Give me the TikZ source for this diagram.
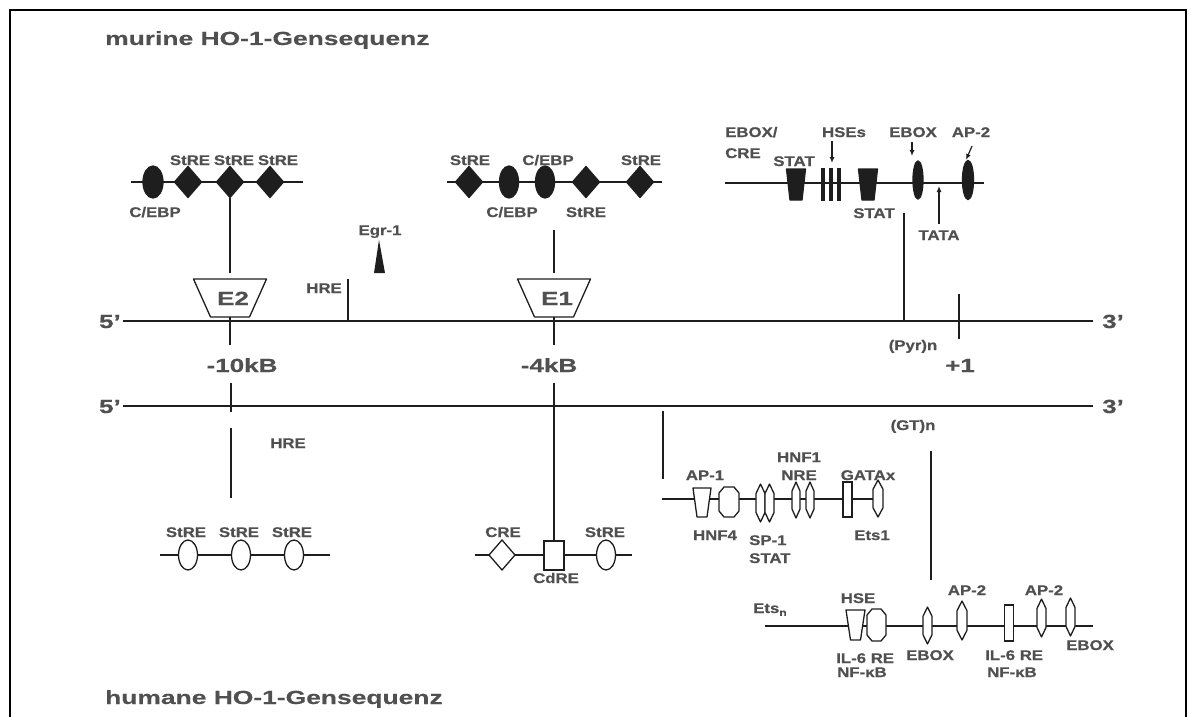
\documentclass[tikz,border=0pt]{standalone}
\usepackage{fontspec}
\setmainfont{Liberation Sans}
\newfontfamily\labf[FakeStretch=1.2,FakeBold=0.6]{Liberation Sans}
\newfontfamily\bigf[FakeStretch=1.37,FakeBold=0.6]{Liberation Sans}
\newfontfamily\titf[FakeStretch=1.39,FakeBold=0.3]{Liberation Sans}
\usetikzlibrary{shapes.geometric,arrows.meta}
\definecolor{lnc}{HTML}{1E1E1E}
\definecolor{txc}{HTML}{505050}
\tikzset{
 conn/.style={draw=lnc,line width=1.6pt},
 dna/.style={draw=lnc,line width=2.8pt},
 clus/.style={draw=lnc,line width=2pt},
 el/.style={draw=lnc,line width=1.3pt,inner sep=0pt,outer sep=0pt,fill=white},
 elp/.style={draw=lnc,line width=1.3pt,fill=white,line join=round},
 filled/.style={fill=lnc},
 oval/.style={el,ellipse},
 dmd/.style={el,diamond},
 box/.style={el,rectangle},
 sz/.style 2 args={minimum width=#1pt,minimum height=#2pt},
 lab/.style={text=txc,font=\labf\bfseries\fontsize{14}{16}\selectfont,inner sep=0pt,anchor=base},
 biglab/.style={text=txc,font=\bigf\bfseries\fontsize{19}{22}\selectfont,inner sep=0pt,anchor=base},
 ttl/.style={text=txc,font=\titf\bfseries\fontsize{19}{22}\selectfont,inner sep=0pt,anchor=base west},
 arr/.style={draw=lnc,line width=1.2pt,-{Latex[length=6pt,width=5pt]}},
}
% trapezoid: name, x, y, top width, bottom width, height, style
\newcommand\trapz[7]{%
 \coordinate (#1) at (#2,#3);
 \coordinate (#1n) at (#2,#3-#6/2);
 \coordinate (#1s) at (#2,#3+#6/2);
 \path[#7] (#2-#4/2,#3-#6/2) -- (#2+#4/2,#3-#6/2) -- (#2+#5/2,#3+#6/2) -- (#2-#5/2,#3+#6/2) -- cycle;}
% lens (pointed hexagon): name, x, y, width, height, style
\newcommand\lensz[6]{%
 \coordinate (#1) at (#2,#3);
 \path[#6] (#2,#3-#5/2) -- (#2+#4/2,#3-#5/4) -- (#2+#4/2,#3+#5/4) -- (#2,#3+#5/2) -- (#2-#4/2,#3+#5/4) -- (#2-#4/2,#3-#5/4) -- cycle;}
% octagon: name, x, y, width, height, style
\newcommand\octz[6]{%
 \coordinate (#1) at (#2,#3);
 \path[#6] (#2-#4/2+5,#3-#5/2) -- (#2+#4/2-5,#3-#5/2) -- (#2+#4/2,#3-#5/2+6) -- (#2+#4/2,#3+#5/2-6) -- (#2+#4/2-5,#3+#5/2) -- (#2-#4/2+5,#3+#5/2) -- (#2-#4/2,#3+#5/2-6) -- (#2-#4/2,#3-#5/2+6) -- cycle;}
\begin{document}
\begin{tikzpicture}[x=1pt,y=-1pt]
\useasboundingbox (0,0) rectangle (1196,717);
% frame
\draw[line width=2.3pt,draw=black] (10,720) -- (10,10) -- (1186,10) -- (1186,720);
% titles
\node[ttl] (t1) at (105,45) {murine HO-1-Gensequenz};
\node[ttl] (t2) at (105,704) {humane HO-1-Gensequenz};
% main lines
\coordinate (m5) at (123,321); \coordinate (m3) at (1093,321);
\coordinate (h5) at (123,406); \coordinate (h3) at (1093,406);
\draw[dna] (m5) -- (m3);
\draw[dna] (h5) -- (h3);
\node[biglab,anchor=base east] (m5l) at (121,328) {5’};
\node[biglab,anchor=base west] (m3l) at (1102,328) {3’};
\node[biglab,anchor=base east] (h5l) at (121,413) {5’};
\node[biglab,anchor=base west] (h3l) at (1102,413) {3’};

% ---- top left cluster
\draw[clus] (131,182) -- (303,182);
\node[oval,filled,sz={20}{32}] (a1) at (153,182) {};
\node[dmd,filled,sz={27}{31}] (a2) at (188,182) {};
\node[dmd,filled,sz={27}{31}] (a3) at (230,182) {};
\node[dmd,filled,sz={27}{31}] (a4) at (270,182) {};
\node[lab] (la2) at (190,165) {StRE};
\node[lab] (la3) at (234,165) {StRE};
\node[lab] (la4) at (278,165) {StRE};
\node[lab] (la1) at (155,217) {C/EBP};
\trapz{e2}{230}{298}{73}{39}{38}{elp}
\node[biglab] (e2l) at (233,305) {E2};
\draw[conn,shorten >=6pt] (a3.south) -- (e2n);
\coordinate (k2) at (230,345);
\draw[conn] (e2s) -- (k2);
\node[biglab] (kb10) at (242,372) {-10kB};
% HRE / Egr-1
\coordinate (hre1) at (348,279); \coordinate (hre0) at (348,321);
\draw[conn] (hre1) -- (hre0);
\node[lab,anchor=base east] (hrel) at (342,293) {HRE};
\fill[lnc] (379,240) -- (385,273) -- (374,273) -- cycle;
\node[lab] (egr) at (380,235) {Egr-1};

% ---- top middle cluster
\draw[clus] (447,182) -- (662,182);
\node[dmd,filled,sz={27}{31}] (b1) at (469,182) {};
\node[oval,filled,sz={19}{32}] (b2) at (509,182) {};
\node[oval,filled,sz={19}{32}] (b3) at (545,182) {};
\node[dmd,filled,sz={27}{31}] (b4) at (586,182) {};
\node[dmd,filled,sz={27}{31}] (b5) at (640,182) {};
\node[lab] (lb1) at (470,165) {StRE};
\node[lab] (lb3) at (548,165) {C/EBP};
\node[lab] (lb5) at (641,165) {StRE};
\node[lab] (lb2) at (512,217) {C/EBP};
\node[lab] (lb4) at (586,217) {StRE};
\coordinate (e1top) at (554,230);
\trapz{e1}{554}{298}{73}{39}{38}{elp}
\node[biglab] (e1l) at (557,305) {E1};
\draw[conn,shorten >=6pt] (e1top) -- (e1n);
\coordinate (k1) at (554,345);
\draw[conn] (e1s) -- (k1);
\node[biglab] (kb4) at (549,372) {-4kB};

% ---- top right cluster
\draw[clus] (725,183) -- (984,183);
\trapz{s1}{796}{184.5}{19}{12}{31}{elp,filled}
\node[box,filled,sz={3}{31}] (hs1) at (823,184.5) {};
\node[box,filled,sz={3}{31}] (hs2) at (831,184.5) {};
\node[box,filled,sz={3}{31}] (hs3) at (839,184.5) {};
\trapz{s2}{868}{184.5}{19}{12}{31}{elp,filled}
\node[oval,filled,sz={10}{38}] (eb) at (918,180) {};
\node[oval,filled,sz={11}{39}] (ap) at (968,180) {};
\node[lab,anchor=base west] (lc1) at (725,137) {EBOX/};
\node[lab,anchor=base west] (lc2) at (725,158) {CRE};
\node[lab] (lc3) at (794,166) {STAT};
\node[lab] (lc4) at (844,137) {HSEs};
\node[lab] (lc5) at (913,137) {EBOX};
\node[lab] (lc6) at (971,137) {AP-2};
\node[lab] (lc7) at (874,218) {STAT};
\node[lab] (lc8) at (939,240) {TATA};
\coordinate (ar1a) at (832,141); \coordinate (ar1b) at (832,163);
\coordinate (ar2a) at (912,142); \coordinate (ar2b) at (912,156);
\coordinate (ar3a) at (972,146); \coordinate (ar3b) at (966,160);
\coordinate (ar4a) at (939,224); \coordinate (ar4b) at (939,186);
\draw[arr] (ar1a) -- (ar1b);
\draw[arr] (ar2a) -- (ar2b);
\draw[arr] (ar3a) -- (ar3b);
\draw[arr] (ar4a) -- (ar4b);
\coordinate (pyrt) at (904,213); \coordinate (pyr) at (904,321);
\draw[conn] (pyrt) -- (pyr);
\node[lab] (pyrl) at (913,350) {(Pyr)n};
\coordinate (p1a) at (959,294); \coordinate (p1b) at (959,339);
\draw[conn] (p1a) -- (p1b);
\node[biglab] (p1l) at (960,372) {+1};

% ---- human line connectors
\coordinate (q1a) at (231,383); \coordinate (q1b) at (231,412);
\draw[conn] (q1a) -- (q1b);
\coordinate (q2a) at (231,428); \coordinate (q2b) at (231,498);
\draw[conn] (q2a) -- (q2b);
\node[lab] (hre2) at (288,448) {HRE};
\coordinate (q3a) at (663,411); \coordinate (q3b) at (663,479);
\draw[conn] (q3a) -- (q3b);
\node[lab] (gtl) at (913,430) {(GT)n};
\coordinate (q4a) at (931,451); \coordinate (q4b) at (931,580);
\draw[conn] (q4a) -- (q4b);

% ---- bottom left cluster
\draw[clus] (160,555) -- (330,555);
\node[oval,sz={19}{30}] (c1) at (188,555) {};
\node[oval,sz={19}{30}] (c2) at (241,555) {};
\node[oval,sz={19}{30}] (c3) at (294,555) {};
\node[lab] (lcc1) at (186,537) {StRE};
\node[lab] (lcc2) at (239,537) {StRE};
\node[lab] (lcc3) at (292,537) {StRE};

% ---- bottom middle cluster
\draw[clus] (475,555) -- (632,555);
\node[dmd,sz={26}{30}] (cre) at (502,555) {};
\node[box,sz={20}{29}] (cd) at (554,555.5) {};
\node[oval,sz={19}{30}] (st) at (606,555) {};
\coordinate (q5a) at (554,383);
\draw[conn] (q5a) -- (cd.north);
\node[lab] (ld1) at (503,537) {CRE};
\node[lab] (ld2) at (605,537) {StRE};
\node[lab] (ld3) at (556,583) {CdRE};

% ---- middle right cluster
\draw[clus] (662,499) -- (878,499);
\trapz{ap1}{702}{502.5}{18}{10}{29}{elp}
\octz{hnf4}{729}{502}{20}{30}{elp}
\lensz{sp1a}{760.5}{503}{9}{38}{elp}
\lensz{sp1b}{769.5}{503}{9}{38}{elp}
\lensz{hn1a}{796}{500}{8}{36}{elp}
\lensz{hn1b}{810}{500}{8}{36}{elp}
\node[box,sz={9}{35}] (gata) at (847.5,499.5) {};
\lensz{ets1}{878}{498.5}{10}{37}{elp}
\node[lab] (le1) at (705,480) {AP-1};
\node[lab] (le2) at (799,462) {HNF1};
\node[lab] (le3) at (799,480) {NRE};
\node[lab] (le4) at (868,480) {GATAx};
\node[lab] (le5) at (715,540) {HNF4};
\node[lab,anchor=base west] (le6) at (749,545) {SP-1};
\node[lab,anchor=base west] (le7) at (749,563) {STAT};
\node[lab] (le8) at (872,540) {Ets1};

% ---- bottom right cluster
\draw[clus] (765,626) -- (1093,626);
\trapz{hse}{855.5}{625}{19}{10}{30}{elp}
\octz{oc2}{876.5}{625}{19}{32}{elp}
\lensz{f1}{927.5}{625.5}{9}{37}{elp}
\lensz{f2}{962}{620.5}{10}{39}{elp}
\node[box,sz={9}{36}] (f3) at (1009,623) {};
\lensz{f4}{1041.5}{618}{9}{38}{elp}
\lensz{f5}{1070.5}{617}{9}{38}{elp}
\node[lab,anchor=base west] (lf0) at (753,613) {Ets\raisebox{-0.4ex}{\fontsize{10}{10}\selectfont n}};
\node[lab] (lf1) at (858,603) {HSE};
\node[lab] (lf2) at (967,595) {AP-2};
\node[lab] (lf3) at (1044,595) {AP-2};
\node[lab,anchor=base west] (lf4) at (836,663) {IL-6 RE};
\node[lab,anchor=base west] (lf5) at (837,677) {NF-κB};
\node[lab] (lf6) at (930,660) {EBOX};
\node[lab,anchor=base west] (lf7) at (985,660) {IL-6 RE};
\node[lab,anchor=base west] (lf8) at (987,677) {NF-κB};
\node[lab] (lf9) at (1090,650) {EBOX};
\end{tikzpicture}
\end{document}
